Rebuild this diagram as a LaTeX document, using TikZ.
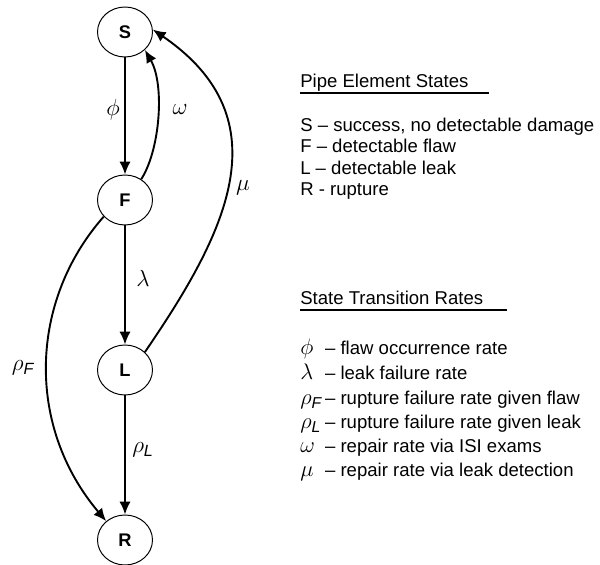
\documentclass[tikz,border=0pt]{standalone}
\usepackage{fix-cm}
\usepackage{fontspec}
\setmainfont{Liberation Sans}
\usetikzlibrary{shapes.geometric,arrows.meta}

\tikzset{
  state/.style={ellipse, draw, line width=0.7pt, minimum width=1.375cm, minimum height=1.25cm, inner sep=0pt, font=\fontsize{13}{15}\selectfont\bfseries},
  trans/.style={line width=1.35pt, -{Latex[length=3.2mm,width=2.8mm]}},
  rate/.style={font=\fontsize{16.5}{18}\selectfont},
  legend/.style={anchor=base west, inner sep=0pt, font=\fontsize{13.2}{15}\selectfont}
}
\newcommand{\sym}[1]{\makebox[0.62cm][l]{\fontsize{16}{15}\selectfont#1}}

\begin{document}
\begin{tikzpicture}[x=1cm,y=1cm]
\useasboundingbox (0,0) rectangle (15,-14.125);

% les etats
\node[state] (S) at (3.125,-0.8) {S};
\node[state] (F) at (3.125,-5.0) {F};
\node[state] (L) at (3.125,-9.25) {L};
\node[state] (R) at (3.125,-13.5) {R};

% les transitions
\draw[trans] (S) -- (F);
\draw[trans] (F) -- (L);
\draw[trans] (L) -- (R);
\draw[trans] (F.52) .. controls (4.0,-3.75) and (4.125,-2.125) .. (S.-42);
\draw[trans] (L.42) .. controls (5.625,-5.875) and (7.125,-3.0) .. (S.5);
\draw[trans] (F.218) .. controls (0.75,-7.5) and (0.625,-10.625) .. (R.135);

% les taux
\node[rate] (phi) at (2.825,-2.75) {$\phi$};
\node[rate] (omega) at (4.5,-2.75) {$\omega$};
\node[rate] (mu) at (6.075,-4.7) {$\mu$};
\node[rate] (lambda) at (3.575,-6.95) {$\lambda$};
\node[rate] (rhoF) at (0.575,-9.2) {$\rho_{\mathit{F}}$};
\node[rate] (rhoL) at (3.575,-11.25) {$\rho_{\mathit{L}}$};

% la legende
\node[legend] (states) at (7.5,-2.2) {Pipe Element States};
\draw[line width=0.9pt] (7.5,-2.325) -- (12.225,-2.325);
\node[legend] (sS) at (7.5,-3.3) {S -- success, no detectable damage};
\node[legend] (sF) at (7.5,-3.825) {F -- detectable flaw};
\node[legend] (sL) at (7.5,-4.375) {L -- detectable leak};
\node[legend] (sR) at (7.5,-4.9) {R - rupture};

\node[legend] (rates) at (7.5,-7.625) {State Transition Rates};
\draw[line width=0.9pt] (7.5,-7.75) -- (12.675,-7.75);
\node[legend] (rphi) at (7.5,-8.875) {\sym{$\phi$}-- flaw occurrence rate};
\node[legend] (rlambda) at (7.5,-9.5) {\sym{$\lambda$}-- leak failure rate};
\node[legend] (rrhoF) at (7.5,-10.125) {\sym{$\rho_{\mathit{F}}$}-- rupture failure rate given flaw};
\node[legend] (rrhoL) at (7.5,-10.725) {\sym{$\rho_{\mathit{L}}$}-- rupture failure rate given leak};
\node[legend] (romega) at (7.5,-11.325) {\sym{$\omega$}-- repair rate via ISI exams};
\node[legend] (rmu) at (7.5,-11.925) {\sym{$\mu$}-- repair rate via leak detection};

\end{tikzpicture}
\end{document}
